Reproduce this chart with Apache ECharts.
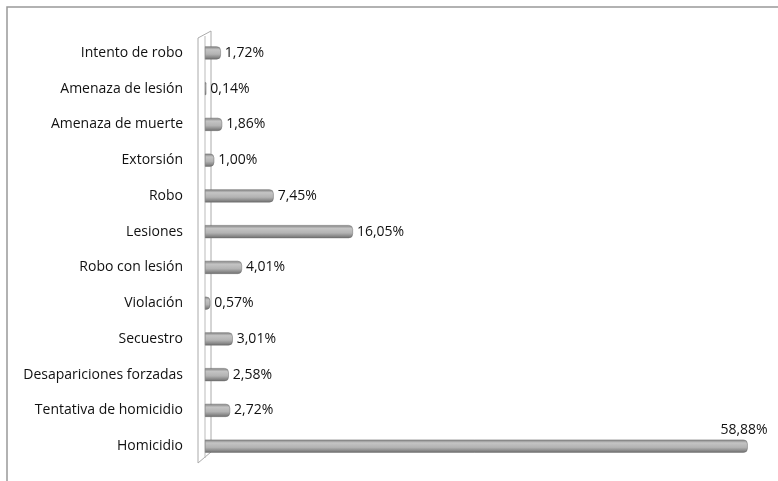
<!DOCTYPE html>
<html><head><meta charset="utf-8">
<script src="https://cdn.jsdelivr.net/npm/echarts@6/dist/echarts.min.js"></script>
<style>html,body{margin:0;padding:0;background:#fff}#c{width:778px;height:481px}</style>
</head><body><div id="c"></div>
<script>
const categories = ["Intento de robo","Amenaza de lesión","Amenaza de muerte","Extorsión","Robo","Lesiones","Robo con lesión","Violación","Secuestro","Desapariciones forzadas","Tentativa de homicidio","Homicidio"];
const values = [1.72,0.14,1.86,1.00,7.45,16.05,4.01,0.57,3.01,2.58,2.72,58.88];
const valueLabels = ["1,72%","0,14%","1,86%","1,00%","7,45%","16,05%","4,01%","0,57%","3,01%","2,58%","2,72%","58,88%"];

const chart = echarts.init(document.getElementById('c'));
const grad = new echarts.graphic.LinearGradient(0,0,0,1,[
  {offset:0,color:'#7d7d7d'},{offset:0.25,color:'#c4c4c4'},{offset:0.6,color:'#b3b3b3'},{offset:1,color:'#6e6e6e'}]);
const data = values.map((v,i)=>{
  const last = i === values.length-1;
  return last ? {value:v, label:{position:['100%','0%'], align:'right', verticalAlign:'bottom', offset:[20,-3]}} : {value:v};
});
chart.setOption({
  animation:false,
  grid:{left:205,top:35,height:429,width:553},
  xAxis:{type:'value',min:0,max:60,show:false},
  yAxis:{type:'category',data:categories,inverse:true,
    axisLine:{show:false},axisTick:{show:false},
    axisLabel:{margin:22,color:'#111',fontSize:14,fontFamily:'Open Sans'}},
  series:[{type:'bar',data:data,barWidth:13,
    itemStyle:{color:grad,borderRadius:[0,4,4,0],borderColor:'#6a6a6a',borderWidth:0.5},
    label:{show:true,position:'right',distance:4,color:'#111',fontSize:14,fontFamily:'Open Sans',
      formatter:p=>valueLabels[p.dataIndex]},
    z:3}],
  graphic:[
    {type:'polyline',shape:{points:[[7,481],[7,7],[778,7]]},style:{stroke:'#999',lineWidth:1.5,fill:null},z:0},
    {type:'polygon',shape:{points:[[198,38],[211,31],[211,452],[198,463]]},style:{stroke:'#aaa',lineWidth:1,fill:'#fff'},z:0},
    {type:'line',shape:{x1:205,y1:36,x2:205,y2:458},style:{stroke:'#bbb',lineWidth:1},z:0}
  ]
});
</script></body></html>
